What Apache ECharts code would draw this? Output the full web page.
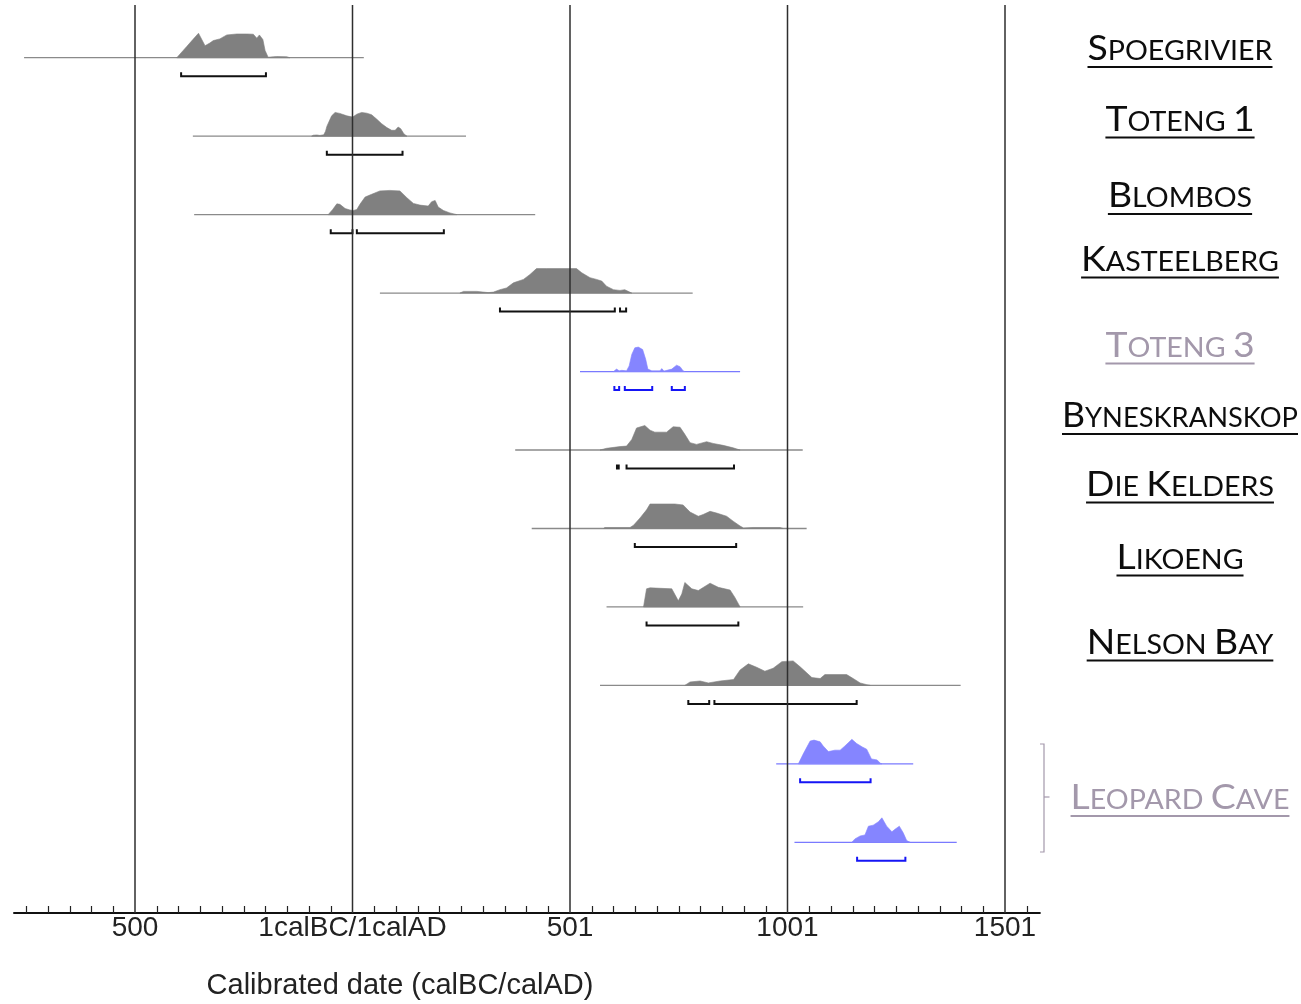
<!DOCTYPE html>
<html>
<head>
<meta charset="utf-8">
<script src="https://cdn.jsdelivr.net/npm/echarts@6/dist/echarts.min.js"></script>
<style>
html,body{margin:0;padding:0;background:#ffffff;}
#chart{width:1301px;height:1004px;}
</style>
</head>
<body>
<div id="chart"></div>
<script>
// ---------------- DATA (years: 0 = 1calBC/1calAD, negative = calBC) ----------------
const majorTicks = [-500, 0, 500, 1000, 1500];
const majorTickLabels = ['500', '1calBC/1calAD', '501', '1001', '1501'];
const axisTitle = 'Calibrated date (calBC/calAD)';

const labelNames = ['Spoegrivier', 'Toteng 1', 'Blombos', 'Kasteelberg', 'Toteng 3',
  'Byneskranskop', 'Die Kelders', 'Likoeng', 'Nelson Bay', 'Leopard Cave'];
const labelMuted = [false, false, false, false, true, false, false, false, false, true];

// relative probability distributions: [year, relative probability]
const spoegrivierDensity = [[-404,0],[-381,0.46],[-367,0.74],[-354,1.0],[-339,0.49],[-328,0.6],[-320,0.7],[-305,0.77],[-289,0.93],[-266,0.97],[-243,0.97],[-228,0.96],[-220,0.8],[-214,0.93],[-206,0.74],[-201,0.3],[-194,0.02],[-182,0.04],[-174,0.05],[-151,0.04],[-144,0]];
const spoegrivierRange = [-755, 26];
const spoegrivierHpd = [[-394, -199]];

const toteng1Density = [[-94,0],[-90,0.04],[-82,0.05],[-75,0.03],[-66,0.06],[-62,0.2],[-59,0.4],[-48,0.83],[-40,0.97],[-29,0.93],[-13,0.83],[-2,0.79],[2,0.8],[10,0.9],[21,0.97],[33,0.94],[44,0.875],[56,0.69],[67,0.51],[79,0.35],[90,0.24],[98,0.24],[105,0.375],[111,0.3],[118,0.1],[125,0]];
const toteng1Range = [-367, 261];
const toteng1Hpd = [[-59, 115]];

const blombosDensity = [[-56,0],[-46,0.2],[-36,0.44],[-29,0.42],[-17,0.25],[-6,0.19],[2,0.17],[10,0.21],[17,0.42],[29,0.72],[44,0.83],[63,0.97],[86,0.99],[109,0.97],[125,0.69],[140,0.46],[155,0.39],[174,0.35],[182,0.53],[190,0.58],[197,0.31],[209,0.17],[224,0.07],[240,0]];
const blombosRange = [-364, 420];
const blombosHpd = [[-50, 0], [10, 210]];

const kasteelbergDensity = [[247,0],[255,0.07],[286,0.07],[312,0.02],[324,0.04],[339,0.14],[354,0.21],[370,0.42],[393,0.56],[408,0.76],[423,1.0],[446,1.0],[477,1.0],[515,1.0],[527,0.83],[546,0.63],[561,0.56],[573,0.49],[584,0.28],[600,0.14],[615,0.11],[626,0.14],[642,0]];
const kasteelbergRange = [63, 782];
const kasteelbergHpd = [[339, 603], [615, 629]];

const toteng3Density = [[600,0],[607,0.1],[613,0.03],[619,0.05],[630,0.03],[636,0.23],[642,0.7],[649,0.97],[657,1.0],[667,0.9],[674,0.5],[679,0.1],[688,0.03],[707,0.03],[711,0.12],[716,0.02],[734,0.1],[745,0.26],[753,0.2],[760,0.03],[764,0]];
const toteng3Range = [523, 891];
const toteng3Hpd = [[602, 613], [626, 689], [734, 764]];

const byneskranskopDensity = [[569,0],[584,0.07],[615,0.14],[630,0.16],[642,0.43],[653,0.9],[672,1.0],[684,0.81],[695,0.73],[722,0.73],[737,0.95],[753,0.93],[764,0.64],[776,0.3],[791,0.23],[814,0.34],[829,0.27],[852,0.19],[875,0.09],[891,0]];
const byneskranskopRange = [374, 1035];
const byneskranskopHpd = [[608, 612], [630, 877]];

const dieKeldersDensity = [[577,0],[580,0.04],[638,0.04],[646,0.13],[661,0.43],[676,0.76],[684,1.0],[741,1.0],[760,0.96],[776,0.67],[795,0.5],[806,0.57],[822,0.7],[837,0.63],[860,0.5],[875,0.3],[891,0.1],[899,0.02],[921,0.04],[983,0.04],[990,0]];
const dieKeldersRange = [412, 1044];
const dieKeldersHpd = [[649, 882]];

const likoengDensity = [[669,0],[676,0.74],[684,0.78],[734,0.74],[749,0.25],[757,0.53],[764,1.0],[780,0.74],[795,0.67],[822,0.97],[841,0.8],[868,0.69],[879,0.39],[891,0]];
const likoengRange = [584, 1036];
const likoengHpd = [[676, 887]];

const nelsonBayDensity = [[764,0],[776,0.14],[799,0.18],[818,0.1],[845,0.18],[876,0.24],[891,0.63],[910,0.88],[929,0.74],[948,0.58],[967,0.7],[987,0.97],[1013,1.0],[1029,0.76],[1056,0.32],[1075,0.28],[1086,0.44],[1136,0.44],[1151,0.28],[1167,0.1],[1182,0.03],[1190,0]];
const nelsonBayRange = [569, 1398];
const nelsonBayHpd = [[772, 820], [832, 1159]];

const leopardCaveADensity = [[1025,0],[1036,0.4],[1052,0.93],[1061,0.97],[1069,0.93],[1075,0.9],[1082,0.73],[1094,0.5],[1109,0.56],[1121,0.56],[1132,0.73],[1148,1.0],[1159,0.83],[1172,0.69],[1182,0.6],[1193,0.2],[1206,0.16],[1213,0.03],[1217,0]];
const leopardCaveARange = [974, 1289];
const leopardCaveAHpd = [[1029, 1191]];

const leopardCaveBDensity = [[1148,0],[1155,0.14],[1167,0.26],[1178,0.3],[1186,0.66],[1197,0.7],[1209,0.84],[1217,1.0],[1228,0.66],[1240,0.43],[1247,0.53],[1257,0.66],[1266,0.39],[1274,0.07],[1282,0]];
const leopardCaveBRange = [1016, 1389];
const leopardCaveBHpd = [[1160, 1271]];

const rowEmphasis = [false, false, false, false, true, false, false, false, false, true, true];

const rows = [
  {density: spoegrivierDensity, range: spoegrivierRange, hpd: spoegrivierHpd},
  {density: toteng1Density, range: toteng1Range, hpd: toteng1Hpd},
  {density: blombosDensity, range: blombosRange, hpd: blombosHpd},
  {density: kasteelbergDensity, range: kasteelbergRange, hpd: kasteelbergHpd},
  {density: toteng3Density, range: toteng3Range, hpd: toteng3Hpd},
  {density: byneskranskopDensity, range: byneskranskopRange, hpd: byneskranskopHpd},
  {density: dieKeldersDensity, range: dieKeldersRange, hpd: dieKeldersHpd},
  {density: likoengDensity, range: likoengRange, hpd: likoengHpd},
  {density: nelsonBayDensity, range: nelsonBayRange, hpd: nelsonBayHpd},
  {density: leopardCaveADensity, range: leopardCaveARange, hpd: leopardCaveAHpd},
  {density: leopardCaveBDensity, range: leopardCaveBRange, hpd: leopardCaveBHpd}
];

// ---------------- LAYOUT / STYLE ----------------
const X_MIN = -778, X_MAX = 1580;
const Y_MIN = -0.901, Y_MAX = 10.672;
const PEAK = 0.312;            // peak height in row units
const BRACKET_DY = 18.5;       // px below baseline
const BRACKET_TICK = 4;        // px
const GREY_FILL = '#808080', GREY_LINE = '#8a8a8a', GREY_BRACKET = '#111111';
const BLUE_FILL = '#8585ff', BLUE_LINE = '#7a7aff', BLUE_BRACKET = '#1515f5';
const MUTED = '#a398ab';
const LABEL_FONT = 'Lato';
const BIG = 34, SMALL = 26;
const BIG_WEIGHT = 400, SMALL_WEIGHT = 400;
const LABEL_CX = 1180;
const LABEL_MAX_HALF = 118;
const LABEL_BASELINES = [60, 130.5, 207, 270.5, 356.5, 427, 495.5, 568.5, 653.5, 809];
const TARGET_FIRST_WIDTH = 185;

const minorTicks = [];
for (let v = -750; v <= 1550; v += 50) if (v % 500 !== 0) minorTicks.push(v);

// ---------------- RENDER ----------------
const chart = echarts.init(document.getElementById('chart'), null, {renderer: 'canvas'});

function renderRow(row, i, api) {
  const base = rows.length - 1 - i;
  const emph = rowEmphasis[i];
  const fill = emph ? BLUE_FILL : GREY_FILL;
  const lineC = emph ? BLUE_LINE : GREY_LINE;
  const brC = emph ? BLUE_BRACKET : GREY_BRACKET;
  const children = [];
  const a = api.coord([row.range[0], base]);
  const b = api.coord([row.range[1], base]);
  children.push({type: 'line', shape: {x1: a[0], y1: a[1], x2: b[0], y2: b[1]}, style: {stroke: lineC, lineWidth: 1.3}});
  const pts = row.density.map(d => api.coord([d[0], base + d[1] * PEAK]));
  children.push({type: 'polygon', shape: {points: pts}, style: {fill: fill, stroke: fill, lineWidth: 0.6}});
  row.hpd.forEach(h => {
    const p1 = api.coord([h[0], base]);
    const p2 = api.coord([h[1], base]);
    const y = p1[1] + BRACKET_DY;
    children.push({type: 'polyline', shape: {points: [[p1[0], y - BRACKET_TICK], [p1[0], y], [p2[0], y], [p2[0], y - BRACKET_TICK]]},
      style: {stroke: brC, lineWidth: 2, fill: null}});
  });
  return {type: 'group', children: children};
}

const series = [];
rows.forEach((row, i) => {
  series.push({
    type: 'custom', coordinateSystem: 'cartesian2d', silent: true, z: 3,
    data: [[row.range[0], rows.length - 1 - i]],
    renderItem: (params, api) => renderRow(row, i, api)
  });
});
series.push({
  type: 'custom', coordinateSystem: 'cartesian2d', silent: true, z: 5,
  data: majorTicks.map(v => [v, 0]),
  renderItem: (params, api) => {
    const v = api.value(0);
    const t = api.coord([v, Y_MAX]);
    const bt = api.coord([v, Y_MIN]);
    return {type: 'line', shape: {x1: t[0], y1: t[1], x2: bt[0], y2: bt[1]}, style: {stroke: '#2e2e2e', lineWidth: 1.5}};
  }
});

// --- small caps labels ---
const mctx = document.createElement('canvas').getContext('2d');
function fontStr(size, weight) { return weight + ' ' + size + 'px ' + LABEL_FONT; }
function textWidth(t, size, weight) { mctx.font = fontStr(size, weight); mctx.textBaseline = 'alphabetic'; return mctx.measureText(t).width; }
function midOffset(size, weight) {
  mctx.font = fontStr(size, weight);
  mctx.textBaseline = 'alphabetic';
  const a = mctx.measureText('H').actualBoundingBoxAscent;
  mctx.textBaseline = 'middle';
  const b = mctx.measureText('H').actualBoundingBoxAscent;
  mctx.textBaseline = 'alphabetic';
  return a - b;
}
function smallCapsSegments(name) {
  const segs = [];
  for (const ch of name) {
    const big = ch !== ' ' && ch === ch.toUpperCase();
    const last = segs[segs.length - 1];
    if (last && last.big === big) last.t += ch.toUpperCase();
    else segs.push({t: ch.toUpperCase(), big: big});
  }
  segs.forEach(s => {
    s.size = s.big ? BIG : SMALL;
    s.weight = s.big ? BIG_WEIGHT : SMALL_WEIGHT;
    s.w = textWidth(s.t, s.size, s.weight);
  });
  return segs;
}
const firstSegs = smallCapsSegments(labelNames[0]);
const firstW = firstSegs.reduce((acc, s) => acc + s.w, 0);
const STRETCH = TARGET_FIRST_WIDTH / firstW;

const graphics = [];
labelNames.forEach((name, i) => {
  const segs = smallCapsSegments(name);
  const w = segs.reduce((acc, s) => acc + s.w, 0);
  const stretch = Math.min(STRETCH, 2 * LABEL_MAX_HALF / w);
  const color = labelMuted[i] ? MUTED : '#0d0d0d';
  const base = LABEL_BASELINES[i];
  let cx = -w / 2;
  const children = segs.map(s => {
    const el = {
      type: 'text', x: cx, y: base - midOffset(s.size, s.weight),
      style: {text: s.t, fontFamily: LABEL_FONT, fontWeight: s.weight, fontSize: s.size, fill: color,
        align: 'left', verticalAlign: 'middle', textAlign: 'left', textVerticalAlign: 'middle'}
    };
    cx += s.w;
    return el;
  });
  children.push({type: 'rect', shape: {x: -w / 2, y: base + 6, width: w, height: 2}, style: {fill: color}});
  graphics.push({type: 'group', x: LABEL_CX, y: 0, scaleX: stretch, silent: true, children: children});
});
// Leopard Cave brace
graphics.push({type: 'polyline', silent: true, shape: {points: [[1040, 744], [1044, 744], [1044, 852], [1040, 852]]},
  style: {stroke: MUTED, lineWidth: 1.2, fill: null}});
graphics.push({type: 'line', silent: true, shape: {x1: 1044, y1: 797, x2: 1049.5, y2: 797}, style: {stroke: MUTED, lineWidth: 1.2}});
// axis title
graphics.push({type: 'text', silent: true, x: 400, y: 986,
  style: {text: axisTitle, fontFamily: 'Liberation Sans, Arial, sans-serif', fontSize: 29, fill: '#222',
    align: 'center', verticalAlign: 'middle', textAlign: 'center', textVerticalAlign: 'middle'}});

const gridLeft = 14.07, gridRightPx = 1039.8;
const option = {
  animation: false,
  backgroundColor: '#ffffff',
  grid: {left: gridLeft, right: 1301 - gridRightPx, top: 5, bottom: 1004 - 913, containLabel: false},
  xAxis: [
    {
      type: 'value', min: X_MIN, max: X_MAX, position: 'bottom',
      axisLine: {show: true, onZero: false, lineStyle: {color: '#111', width: 2.2}},
      axisTick: {show: false},
      splitLine: {show: false},
      axisLabel: {
        customValues: majorTicks, margin: 1,
        fontFamily: 'Liberation Sans, Arial, sans-serif', fontSize: 28, color: '#222',
        formatter: (v) => majorTickLabels[majorTicks.indexOf(v)]
      }
    },
    {
      type: 'value', min: X_MIN, max: X_MAX, position: 'bottom',
      axisLine: {show: false, onZero: false},
      axisTick: {show: true, inside: true, length: 7, customValues: minorTicks, lineStyle: {color: '#222', width: 1.2}},
      axisLabel: {show: false},
      splitLine: {show: false}
    }
  ],
  yAxis: {type: 'value', min: Y_MIN, max: Y_MAX, show: false, splitLine: {show: false}},
  series: series,
  graphic: graphics
};
chart.setOption(option);
</script>
</body>
</html>
